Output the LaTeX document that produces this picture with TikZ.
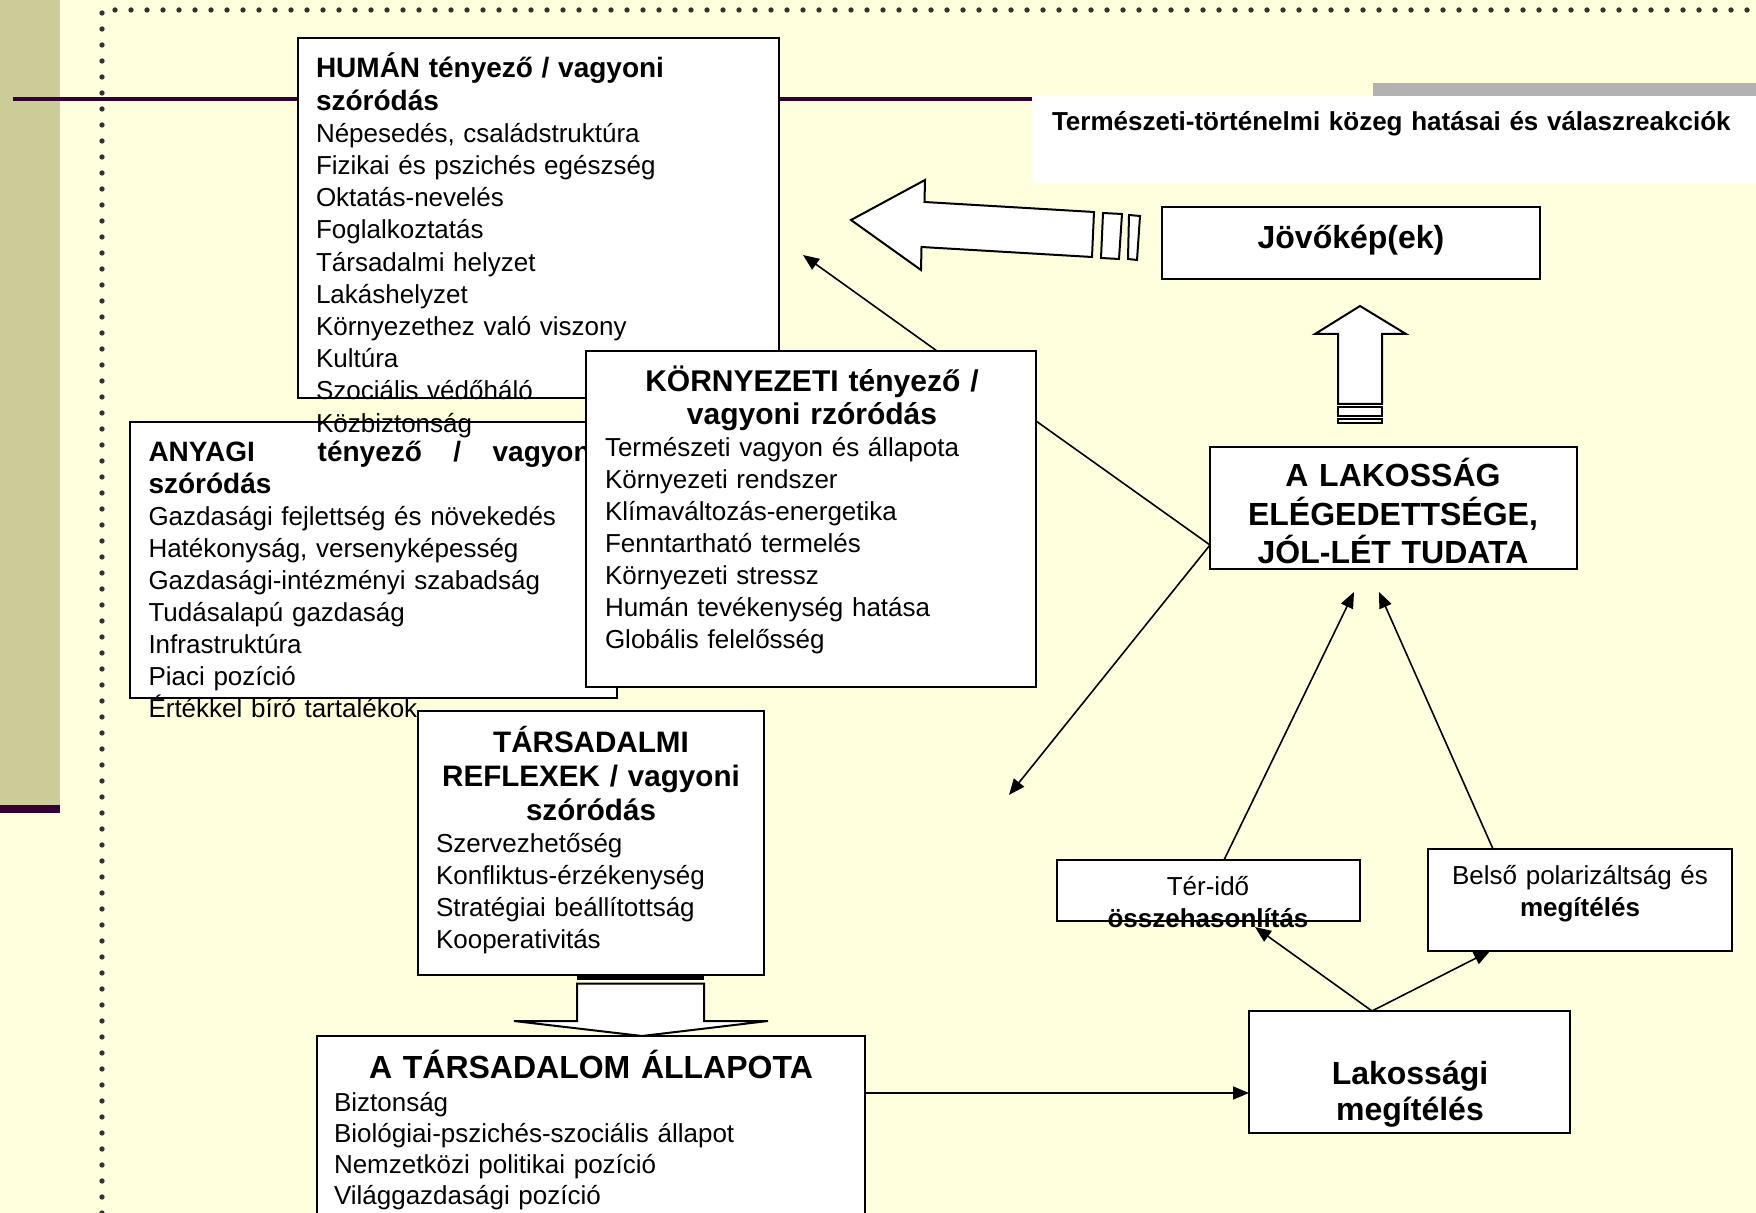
\documentclass[tikz,border=0pt]{standalone}
\usepackage{fontspec}
\setmainfont{Liberation Sans}
\usetikzlibrary{arrows.meta}
\definecolor{bgyel}{RGB}{255,255,221}
\definecolor{khaki}{RGB}{204,204,153}
\definecolor{plum}{RGB}{51,0,51}
\definecolor{greybar}{RGB}{178,178,178}
\definecolor{dotgrey}{RGB}{51,51,51}
\newcommand{\fst}{\rule{0pt}{16pt}}
\newcommand{\hdr}{\fontsize{14pt}{16pt}\selectfont\bfseries}
\begin{document}
\begin{tikzpicture}[x=0.5pt,y=-0.5pt,
  box/.style={draw=black,line width=1.1pt,fill=white,inner sep=0pt,outer sep=0pt,anchor=north west},
  txt/.style={inner sep=0pt,outer sep=0pt,anchor=north west,align=left,text width=300pt,font=\fontsize{13pt}{16pt}\selectfont},
  ttl/.style={inner sep=0pt,outer sep=0pt,anchor=north,align=center,text width=240pt},
  arr/.style={line width=0.8pt,-{Triangle[length=8pt,width=6.5pt]}},
  conn/.style={line width=0.8pt},
  hollow/.style={draw=black,fill=white,line width=1pt,line join=miter}]
\useasboundingbox (0,0) rectangle (1756,1213);
\clip (0,0) rectangle (1756,1213);
% background
\fill[bgyel] (0,0) rectangle (1756,1213);
\fill[khaki] (0,0) rectangle (60,805);
\fill[plum] (0,805) rectangle (60,813);
\draw[dotgrey,line width=2.7pt,line cap=round,dash pattern=on 0pt off 8pt] (102,1213) -- (102,10) -- (1756,10);
\draw[plum,line width=1.8pt] (13,99) -- (1032,99);
\fill[greybar] (1373,83) rectangle (1756,96);
\fill[white] (1032,96) rectangle (1756,183);
\node[txt,text width=360pt,font=\fontsize{13pt}{16pt}\selectfont\bfseries] (ttitle) at (1052,99) {\fst Természeti-történelmi közeg hatásai és válaszreakciók};
% HUMAN and ANYAGI
\node[box,minimum width=240.5pt,minimum height=180pt] (hum) at (298,38) {};
\node[box,minimum width=243.5pt,minimum height=138pt] (any) at (130,422) {};
\node[txt,font=\fontsize{13pt}{16.1pt}\selectfont] (humt) at (316,46) {\fst{\hdr HUMÁN tényező / vagyoni}\\{\hdr szóródás}\\Népesedés, családstruktúra\\Fizikai és pszichés egészség\\Oktatás-nevelés\\Foglalkoztatás\\Társadalmi helyzet\\Lakáshelyzet\\Környezethez való viszony\\Kultúra\\Szociális védőháló\\Közbiztonság};
\node[txt] (anyt) at (148.5,430) {\fst\makebox[225pt][l]{\hdr ANYAGI\hfill\hfill tényező\hfill/\hfill vagyoni}\\{\hdr szóródás}\\Gazdasági fejlettség és növekedés\\Hatékonyság, versenyképesség\\Gazdasági-intézményi szabadság\\Tudásalapú gazdaság\\Infrastruktúra\\Piaci pozíció\\Értékkel bíró tartalékok};
% KORNYEZETI
\node[box,minimum width=225pt,minimum height=168pt] (kor) at (586,351) {};
\node[ttl,font=\fontsize{15pt}{16.5pt}\selectfont\bfseries] (kort) at (812,360) {\fst KÖRNYEZETI tényező /\\vagyoni rzóródás};
\node[txt] (kori) at (605,425) {\fst Természeti vagyon és állapota\\Környezeti rendszer\\Klímaváltozás-energetika\\Fenntartható termelés\\Környezeti stressz\\Humán tevékenység hatása\\Globális felelősség};
% TARSADALMI REFLEXEK
\node[box,minimum width=173pt,minimum height=132pt] (tref) at (418,711) {};
\node[ttl,font=\fontsize{14.8pt}{17pt}\selectfont\bfseries] (treft) at (591,720) {\fst TÁRSADALMI\\REFLEXEK / vagyoni\\szóródás};
\node[txt] (trefi) at (436,820) {\fst Szervezhetőség\\Konfliktus-érzékenység\\Stratégiai beállítottság\\Kooperativitás};
% TARSADALOM ALLAPOTA
\node[box,minimum width=274pt,minimum height=110pt] (tall) at (317,1036) {};
\node[ttl,font=\fontsize{16pt}{17pt}\selectfont\bfseries] (tallt) at (591,1046) {\fst A TÁRSADALOM ÁLLAPOTA};
\node[txt,font=\fontsize{13pt}{15.65pt}\selectfont] (talli) at (334,1079) {\fst Biztonság\\Biológiai-pszichés-szociális állapot\\Nemzetközi politikai pozíció\\Világgazdasági pozíció};
% right column
\node[box,minimum width=189pt,minimum height=36pt] (jov) at (1162,207) {};
\node[ttl,font=\fontsize{16pt}{17pt}\selectfont\bfseries] (jovt) at (1351,217) {\fst Jövőkép(ek)};
\node[box,minimum width=183.5pt,minimum height=61pt] (lak) at (1210,447) {};
\node[ttl,font=\fontsize{16pt}{19.25pt}\selectfont\bfseries] (lakt) at (1393,455) {\fst A LAKOSSÁG\\ELÉGEDETTSÉGE,\\JÓL-LÉT TUDATA};
\node[box,minimum width=151.5pt,minimum height=30.5pt] (ter) at (1057,860) {};
\node[ttl,font=\fontsize{13pt}{16pt}\selectfont] (tert) at (1208,863) {\fst Tér-idő\\\textbf{összehasonlítás}};
\node[box,minimum width=152pt,minimum height=51pt] (bel) at (1428,849) {};
\node[ttl,font=\fontsize{13pt}{16pt}\selectfont] (belt) at (1580,852) {\fst Belső polarizáltság és\\\textbf{megítélés}};
\node[box,minimum width=160.5pt,minimum height=61pt] (lks) at (1249,1011) {};
\node[ttl,font=\fontsize{16pt}{18pt}\selectfont\bfseries] (lkst) at (1410,1052) {\fst Lakossági\\megítélés};
% hollow block arrows
\draw[hollow] (851,220) -- (925,180) -- (924.5,202) -- (1094,212) -- (1092,257) -- (921.5,247) -- (921,270) -- cycle;
\draw[hollow] (1103,213) -- (1122,214) -- (1119,259) -- (1101,258) -- cycle;
\draw[hollow] (1129,215) -- (1140,216) -- (1137,260) -- (1128,259) -- cycle;
\draw[hollow] (1360,306) -- (1406,334) -- (1382,334) -- (1382,404) -- (1338,404) -- (1338,334) -- (1315,334) -- cycle;
\draw[hollow] (1338,407) rectangle (1382,416);
\draw[hollow] (1338,419) rectangle (1382,423);
\fill[black] (577,974) rectangle (704,980);
\draw[hollow] (577,983.5) -- (704,983.5) -- (704,1021) -- (768,1021) -- (642,1036) -- (514,1021) -- (577,1021) -- cycle;
% connectors
\coordinate (humtip) at (803,255);
\coordinate (retip) at (1009,795);
\draw[arr] ([xshift=175.5pt]kor.north west) -- (humtip);
\draw[conn] ([yshift=-35pt]kor.north east) -- ([yshift=-49pt]lak.north west);
\draw[arr] ([yshift=-49pt]lak.north west) -- (retip);
\draw[arr] ([xshift=83.5pt]ter.north west) -- ([xshift=72pt,yshift=-11.5pt]lak.south west);
\draw[arr] ([xshift=32.5pt]bel.north west) -- ([xshift=84.5pt,yshift=-11.5pt]lak.south west);
\draw[arr] ([xshift=61.5pt]lks.north west) -- ([xshift=99pt,yshift=-3pt]ter.south west);
\draw[arr] ([xshift=61.5pt]lks.north west) -- ([xshift=31pt]bel.south west);
\draw[arr] ([yshift=-28.5pt]tall.north east) -- ([yshift=-41pt]lks.north west);
\end{tikzpicture}
\end{document}
